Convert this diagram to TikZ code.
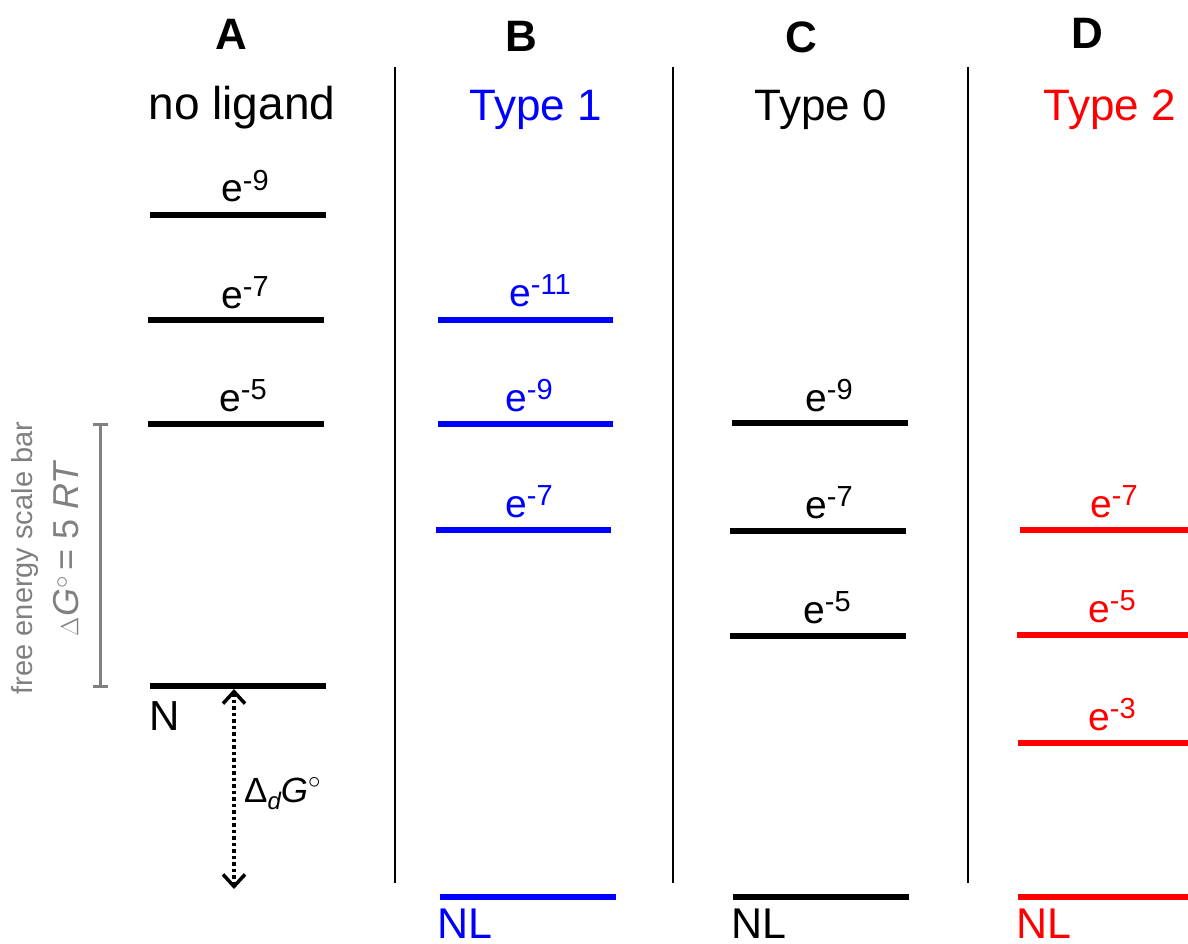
\documentclass[tikz,border=0pt]{standalone}
\usepackage{fontspec}
\setmainfont{Liberation Sans}
\usetikzlibrary{arrows.meta}
\definecolor{pblue}{RGB}{0,0,255}
\definecolor{pred}{RGB}{255,0,0}
\definecolor{sgray}{RGB}{128,128,128}
\newcommand\elab[1]{e\raisebox{12pt}{\fontsize{29}{29}\selectfont -#1}}
\begin{document}
\begin{tikzpicture}[x=1pt,y=-1pt,
  level/.style={line width=6pt},
  sep/.style={line width=2pt},
  hdr/.style={font=\fontsize{44}{44}\selectfont\bfseries, anchor=base, inner sep=0},
  sub/.style={font=\fontsize{44}{44}\selectfont, anchor=base, inner sep=0},
  elabel/.style={font=\fontsize{39}{39}\selectfont, anchor=base west, inner sep=0},
  nlabel/.style={font=\fontsize{43}{43}\selectfont, anchor=base west, inner sep=0}]
\useasboundingbox (0,0) rectangle (1188,944);
% headers
\node[hdr] (hA) at (231,50) {A};
\node[hdr] (hB) at (521,52) {B};
\node[hdr] (hC) at (801,53) {C};
\node[hdr] (hD) at (1087,49) {D};
\node[sub, font=\fontsize{46}{46}\selectfont] (sA) at (242,120) {no ligand};
\node[sub, text=pblue] (sB) at (536,121) {Type 1};
\node[sub] (sC) at (821,121) {Type 0};
\node[sub, text=pred] (sD) at (1110,121) {Type 2};
% separators
\coordinate (s1t) at (395,67); \coordinate (s1b) at (395,883);
\coordinate (s2t) at (673,67); \coordinate (s2b) at (673,883);
\coordinate (s3t) at (968,67); \coordinate (s3b) at (968,883);
\draw[sep] (s1t) -- (s1b);
\draw[sep] (s2t) -- (s2b);
\draw[sep] (s3t) -- (s3b);
% column A
\draw[level] (150,215) -- (326,215);
\draw[level] (148,320) -- (324,320);
\draw[level] (148,424) -- (324,424);
\draw[level] (150,686) coordinate (Nl) -- (326,686) coordinate (Nr);
\node[elabel] (a9) at (221,202) {\elab{9}};
\node[elabel] (a7) at (221,308) {\elab{7}};
\node[elabel] (a5) at (219,411) {\elab{5}};
\node[nlabel, font=\fontsize{42}{42}\selectfont] (N) at (149,730) {N};
% column B
\begin{scope}[pblue]
\draw[level] (438,320) -- (613,320);
\draw[level] (438,424) -- (613,424);
\draw[level] (436,530) -- (611,530);
\draw[level] (440,897) -- (616,897);
\node[elabel] (b11) at (509,306) {\elab{11}};
\node[elabel] (b9) at (505,411) {\elab{9}};
\node[elabel] (b7) at (505,517) {\elab{7}};
\node[nlabel] (bNL) at (437,938) {NL};
\end{scope}
% column C
\draw[level] (732,423) -- (908,423);
\draw[level] (730,531) -- (906,531);
\draw[level] (730,636) -- (906,636);
\draw[level] (733,897) -- (909,897);
\node[elabel] (c9) at (805,411) {\elab{9}};
\node[elabel] (c7) at (805,518) {\elab{7}};
\node[elabel] (c5) at (803,623) {\elab{5}};
\node[nlabel] (cNL) at (731,938) {NL};
% column D
\begin{scope}[pred]
\draw[level] (1020,530) -- (1188,530);
\draw[level] (1017,635) -- (1188,635);
\draw[level] (1018,743) -- (1188,743);
\draw[level] (1018,897) -- (1188,897);
\node[elabel] (d7) at (1090,517) {\elab{7}};
\node[elabel] (d5) at (1088,622) {\elab{5}};
\node[elabel] (d3) at (1088,730) {\elab{3}};
\node[nlabel] (dNL) at (1016,938) {NL};
\end{scope}
% scale bar
\begin{scope}[sgray, line width=3pt]
\coordinate (sbt) at (100,424);
\coordinate (sbb) at (100,686);
\draw (sbt) -- (sbb);
\draw (93,424) -- (108,424);
\draw (93,686) -- (108,686);
\end{scope}
\node[rotate=90, text=sgray, font=\fontsize{29}{29}\selectfont, inner sep=0] (sbt1) at (25,558) {free energy scale bar};
\node[rotate=90, text=sgray, font=\fontsize{36}{36}\selectfont, inner sep=0] (sbt2) at (66,548) {$\Delta$\textit{G}\raisebox{10pt}{\fontsize{28}{28}\selectfont$\circ$}\,= 5 \textit{RT}};
% dissociation arrow
\coordinate (arT) at (234,689);
\coordinate (arB) at (234,889);
\draw[line width=4pt, dash pattern=on 3.5pt off 3pt,
  {Straight Barb[length=12pt,width=22pt,line width=3.5pt]}-{Straight Barb[length=12pt,width=22pt,line width=3.5pt]}] (arT) -- (arB);
\node[font=\fontsize{35}{35}\selectfont, anchor=base west, inner sep=0] (dG) at (244,802) {Δ\raisebox{-7pt}{\fontsize{24}{24}\selectfont\itshape d}\textit{G}\raisebox{14pt}{\fontsize{24}{24}\selectfont$\circ$}};
\end{tikzpicture}
\end{document}
